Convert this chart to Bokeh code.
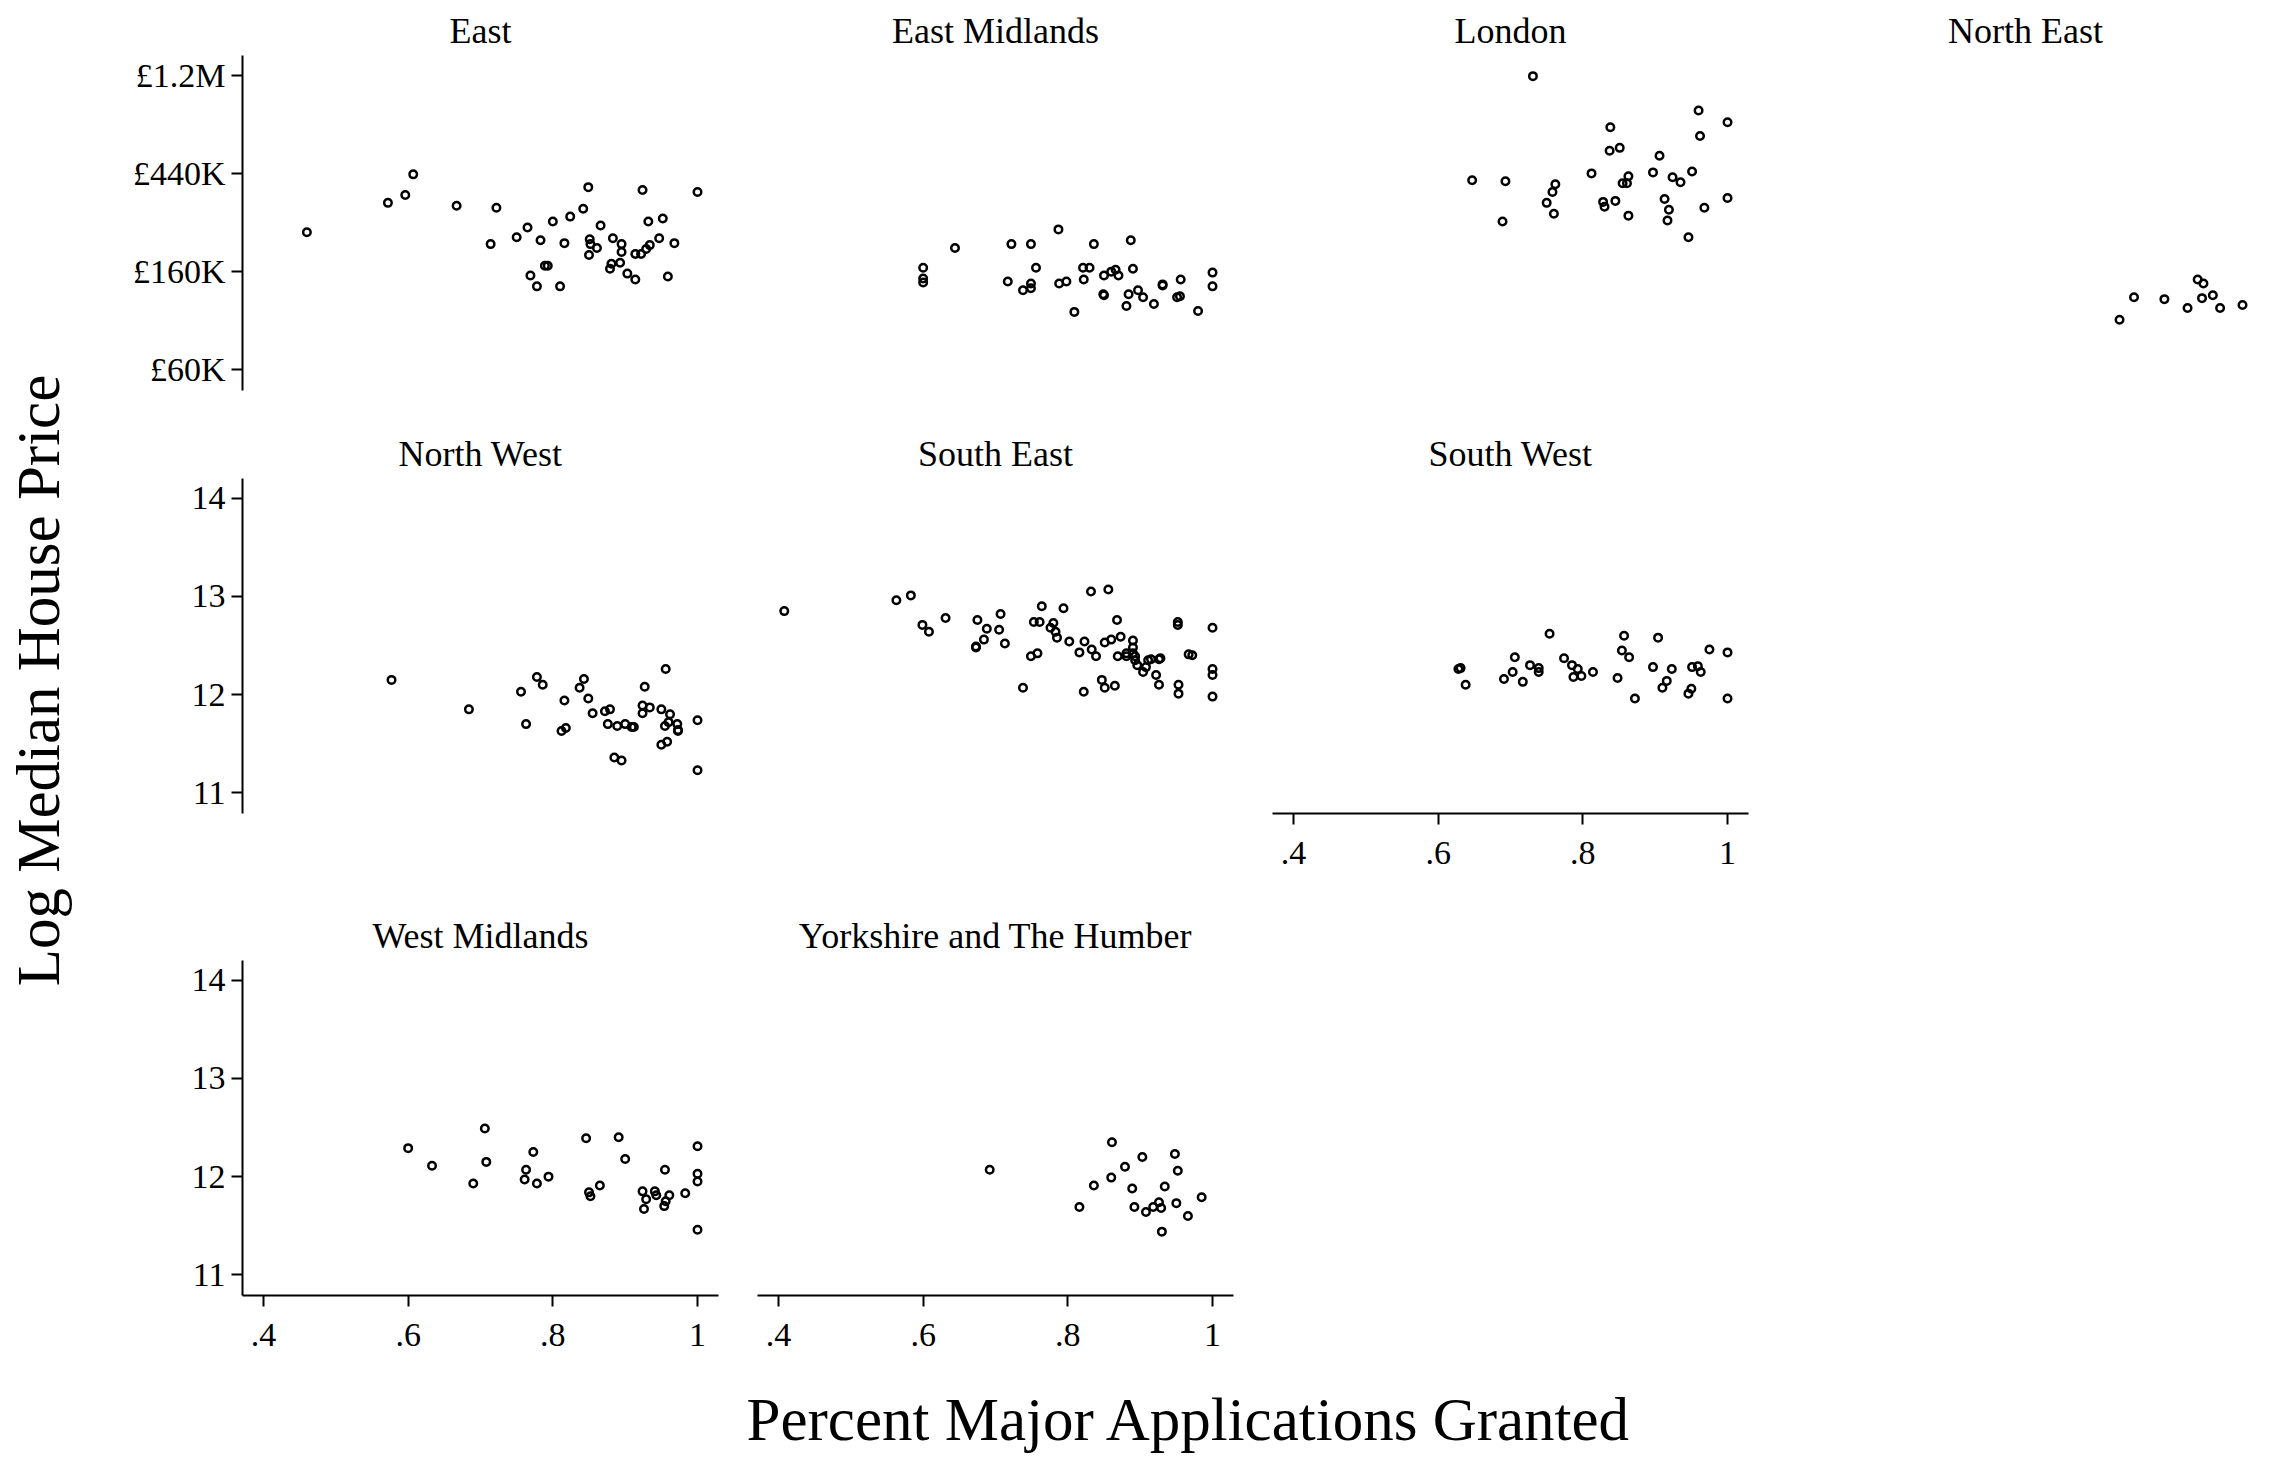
from bokeh.plotting import figure
from bokeh.models import Range1d, LinearAxis, FixedTicker, Label
from bokeh.layouts import row, column
from bokeh.embed import file_html
from bokeh.resources import INLINE

FONT = "Liberation Serif"

# ---------------- data ----------------
x_ticks = [0.4, 0.6, 0.8, 1.0]
x_tick_labels = [".4", ".6", ".8", "1"]
y_ticks = [11, 12, 13, 14]
y_tick_labels = ["11", "12", "13", "14"]
price_tick_labels = ["£60K", "£160K", "£440K", "£1.2M"]

x_title = "Percent Major Applications Granted"
y_title = "Log Median House Price"

east_x = [0.460, 0.572, 0.596, 0.607, 0.667, 0.722, 0.714, 0.750, 0.765, 0.783, 0.800, 0.769, 0.778, 0.789, 0.793,
          0.810, 0.816, 0.824, 0.842, 0.849, 0.851, 0.852, 0.850, 0.861, 0.866, 0.879, 0.881, 0.883, 0.893, 0.895,
          0.895, 0.903, 0.914, 0.914, 0.922, 0.924, 0.929, 0.934, 0.932, 0.947, 0.952, 0.959, 0.968, 1.000]
east_y = [12.40, 12.70, 12.78, 12.99, 12.67, 12.65, 12.28, 12.35, 12.45, 12.32, 12.51, 11.96, 11.85, 12.06, 12.06,
          11.85, 12.29, 12.56, 12.64, 12.86, 12.33, 12.28, 12.17, 12.24, 12.47, 12.03, 12.08, 12.34, 12.09, 12.28,
          12.20, 11.98, 11.92, 12.18, 12.18, 12.83, 12.23, 12.27, 12.51, 12.34, 12.54, 11.95, 12.29, 12.81]

east_mid_x = [0.600, 0.600, 0.600, 0.644, 0.722, 0.749, 0.787, 0.836, 0.887, 0.756, 0.821, 0.830, 0.717, 0.749,
              0.738, 0.749, 0.788, 0.798, 0.822, 0.850, 0.860, 0.866, 0.870, 0.890, 0.809, 0.849, 0.850, 0.881,
              0.884, 0.897, 0.904, 0.919, 0.931, 0.931, 0.951, 0.955, 0.956, 0.980, 1.000, 1.000]
east_mid_y = [12.04, 11.93, 11.89, 12.24, 12.28, 12.28, 12.43, 12.28, 12.32, 12.04, 12.04, 12.04, 11.90, 11.88,
              11.81, 11.83, 11.88, 11.90, 11.92, 11.96, 12.00, 12.02, 11.96, 12.03, 11.59, 11.77, 11.76, 11.65,
              11.77, 11.81, 11.74, 11.67, 11.87, 11.86, 11.74, 11.75, 11.92, 11.60, 11.99, 11.85]

london_x = [0.731, 0.647, 0.693, 0.689, 0.762, 0.758, 0.750, 0.760, 0.812, 0.838, 0.837, 0.851, 0.828, 0.830,
            0.845, 0.863, 0.855, 0.861, 0.863, 0.897, 0.906, 0.913, 0.919, 0.917, 0.924, 0.935, 0.951, 0.946,
            0.960, 0.962, 1.000, 1.000, 0.968]
london_y = [13.99, 12.93, 12.92, 12.51, 12.89, 12.81, 12.70, 12.59, 13.00, 13.47, 13.23, 13.26, 12.71, 12.66,
            12.72, 12.97, 12.90, 12.90, 12.57, 13.01, 13.18, 12.74, 12.63, 12.52, 12.96, 12.91, 13.02, 12.35,
            13.64, 13.38, 13.52, 12.75, 12.65]

north_east_x = [0.830, 0.850, 0.892, 0.924, 0.938, 0.946, 0.944, 0.959, 0.969, 1.000]
north_east_y = [11.51, 11.74, 11.72, 11.63, 11.92, 11.88, 11.73, 11.76, 11.63, 11.66]

north_west_x = [0.577, 0.684, 0.756, 0.763, 0.778, 0.786, 0.816, 0.812, 0.818, 0.837, 0.843, 0.849, 0.855,
                0.872, 0.879, 0.876, 0.889, 0.900, 0.909, 0.912, 0.885, 0.895, 0.924, 0.924, 0.927, 0.934,
                0.950, 0.956, 0.955, 0.960, 0.962, 0.950, 0.958, 0.972, 0.973, 0.973, 1.000, 1.000]
north_west_y = [12.15, 11.85, 12.03, 11.70, 12.18, 12.10, 11.94, 11.63, 11.66, 12.07, 12.16, 11.96, 11.81,
                11.83, 11.85, 11.70, 11.68, 11.70, 11.67, 11.67, 11.36, 11.33, 11.89, 11.81, 12.08, 11.87,
                11.85, 12.26, 11.68, 11.72, 11.80, 11.49, 11.52, 11.70, 11.64, 11.63, 11.74, 11.23]

south_east_x = [0.408, 0.563, 0.583, 0.599, 0.608, 0.631, 0.675, 0.673, 0.673, 0.684, 0.688, 0.705, 0.707,
                0.713, 0.738, 0.749, 0.758, 0.753, 0.761, 0.764, 0.780, 0.776, 0.783, 0.785, 0.794, 0.802,
                0.816, 0.823, 0.822, 0.832, 0.833, 0.839, 0.847, 0.851, 0.851, 0.856, 0.860, 0.865, 0.868,
                0.869, 0.873, 0.881, 0.881, 0.890, 0.890, 0.890, 0.893, 0.893, 0.896, 0.904, 0.908, 0.911,
                0.915, 0.922, 0.926, 0.926, 0.928, 0.952, 0.952, 0.953, 0.953, 0.967, 0.972, 1.000, 1.000,
                1.000, 1.000]
south_east_y = [12.85, 12.96, 13.01, 12.71, 12.64, 12.78, 12.76, 12.48, 12.49, 12.56, 12.67, 12.66, 12.82,
                12.52, 12.07, 12.39, 12.42, 12.74, 12.74, 12.90, 12.73, 12.68, 12.64, 12.58, 12.88, 12.54,
                12.43, 12.54, 12.03, 13.05, 12.46, 12.39, 12.15, 12.07, 12.53, 13.07, 12.56, 12.09, 12.76,
                12.39, 12.59, 12.39, 12.42, 12.55, 12.48, 12.42, 12.39, 12.35, 12.30, 12.23, 12.28, 12.35,
                12.36, 12.20, 12.10, 12.36, 12.37, 12.74, 12.71, 12.10, 12.01, 12.41, 12.40, 12.68, 12.26,
                12.20, 11.98]

south_west_x = [0.628, 0.631, 0.638, 0.691, 0.703, 0.706, 0.717, 0.727, 0.739, 0.739, 0.754, 0.774, 0.785,
                0.793, 0.787, 0.798, 0.814, 0.848, 0.854, 0.857, 0.864, 0.872, 0.897, 0.904, 0.910, 0.916,
                0.923, 0.946, 0.950, 0.951, 0.959, 0.963, 0.975, 1.000, 1.000]
south_west_y = [12.26, 12.27, 12.10, 12.16, 12.23, 12.38, 12.13, 12.30, 12.27, 12.23, 12.62, 12.37, 12.30,
                12.26, 12.18, 12.19, 12.23, 12.17, 12.45, 12.60, 12.38, 11.96, 12.28, 12.58, 12.07, 12.14,
                12.26, 12.01, 12.06, 12.28, 12.29, 12.23, 12.46, 12.43, 11.96]

west_mid_x = [0.600, 0.633, 0.690, 0.706, 0.708, 0.763, 0.761, 0.773, 0.778, 0.794, 0.846, 0.850, 0.852, 0.865,
              0.891, 0.900, 0.924, 0.929, 0.926, 0.941, 0.943, 0.955, 0.954, 0.956, 0.961, 0.983, 1.000, 1.000,
              1.000, 1.000]
west_mid_y = [12.29, 12.11, 11.93, 12.49, 12.15, 12.07, 11.97, 12.25, 11.93, 12.00, 12.39, 11.84, 11.80, 11.91,
              12.40, 12.18, 11.85, 11.77, 11.67, 11.85, 11.81, 12.07, 11.70, 11.75, 11.81, 11.83, 12.31, 12.03,
              11.95, 11.46]

yorks_x = [0.692, 0.861, 0.903, 0.948, 0.879, 0.860, 0.952, 0.836, 0.889, 0.934, 0.816, 0.892, 0.908, 0.918,
           0.926, 0.929, 0.950, 0.985, 0.966, 0.930]
yorks_y = [12.07, 12.35, 12.20, 12.23, 12.10, 11.99, 12.06, 11.91, 11.88, 11.90, 11.69, 11.69, 11.64, 11.69,
           11.74, 11.68, 11.73, 11.79, 11.60, 11.44]

# ---------------- layout constants ----------------
FW, FH = 476, 335
X_RANGE = (0.371, 1.029)
Y_RANGE = (10.79, 14.2)


def style_axis(ax):
    ax.axis_line_width = 2
    ax.axis_line_color = "black"
    ax.major_tick_line_width = 2
    ax.major_tick_line_color = "black"
    ax.major_tick_out = 11
    ax.major_tick_in = 0
    ax.minor_tick_line_color = None
    ax.major_label_text_font = FONT
    ax.major_label_text_font_size = "34px"
    ax.major_label_text_color = "black"


def panel(name, xs, ys, left, right, top, bottom, ylabels=None, xaxis=False):
    p = figure(width=left + FW + right, height=top + FH + bottom,
               x_range=Range1d(*X_RANGE), y_range=Range1d(*Y_RANGE),
               output_backend="svg", toolbar_location=None,
               x_axis_location=None, y_axis_location=None,
               min_border_left=left, min_border_right=right,
               min_border_top=top, min_border_bottom=bottom,
               title=name)
    p.title.align = "center"
    p.title.text_font = FONT
    p.title.text_font_size = "36px"
    p.title.text_font_style = "normal"
    p.title.text_color = "black"
    p.title.standoff = 10
    p.outline_line_color = None
    p.background_fill_color = "white"
    p.border_fill_color = "white"
    for g in p.grid:
        g.visible = False
    if ylabels is not None:
        ax = LinearAxis(ticker=FixedTicker(ticks=y_ticks),
                        major_label_overrides=dict(zip(y_ticks, ylabels)))
        style_axis(ax)
        ax.major_label_standoff = 6
        p.add_layout(ax, "left")
    if xaxis:
        ax = LinearAxis(ticker=FixedTicker(ticks=x_ticks),
                        major_label_overrides=dict(zip(x_ticks, x_tick_labels)))
        style_axis(ax)
        ax.major_label_standoff = 17
        p.add_layout(ax, "below")
    p.scatter(xs, ys, marker="circle", size=7.5, fill_color=None,
              line_color="black", line_width=2.5)
    return p


# row 1
p_e = panel("East", east_x, east_y, 142, 20, 55, 33, ylabels=price_tick_labels)
p_em = panel("East Midlands", east_mid_x, east_mid_y, 19, 20, 55, 33)
p_lo = panel("London", london_x, london_y, 19, 20, 55, 33)
p_ne = panel("North East", north_east_x, north_east_y, 19, 7, 55, 33)
# row 2
p_nw = panel("North West", north_west_x, north_west_y, 142, 20, 55, 92, ylabels=y_tick_labels)
p_se = panel("South East", south_east_x, south_east_y, 19, 20, 55, 92)
p_sw = panel("South West", south_west_x, south_west_y, 19, 20, 55, 92, xaxis=True)
# row 3
p_wm = panel("West Midlands", west_mid_x, west_mid_y, 142, 20, 55, 70, ylabels=y_tick_labels, xaxis=True)
p_yh = panel("Yorkshire and The Humber", yorks_x, yorks_y, 19, 20, 55, 70, xaxis=True)

# big axis titles
left_fig = figure(width=100, height=1459, x_range=Range1d(0, 100), y_range=Range1d(0, 1459),
                  output_backend="svg", toolbar_location=None,
                  x_axis_location=None, y_axis_location=None, min_border=0)
left_fig.outline_line_color = None
for g in left_fig.grid:
    g.visible = False
left_fig.add_layout(Label(x=38, y=1459 - 680, text=y_title, angle=90, angle_units="deg",
                          text_align="center", text_baseline="alphabetic",
                          text_font=FONT, text_font_size="61px", text_color="black"))

bottom_fig = figure(width=2170, height=94, x_range=Range1d(0, 2170), y_range=Range1d(0, 94),
                    output_backend="svg", toolbar_location=None,
                    x_axis_location=None, y_axis_location=None, min_border=0)
bottom_fig.outline_line_color = None
for g in bottom_fig.grid:
    g.visible = False
bottom_fig.add_layout(Label(x=1089, y=40, text=x_title, text_align="center",
                            text_baseline="alphabetic", text_font=FONT,
                            text_font_size="61px", text_color="black"))

grid = column(row(p_e, p_em, p_lo, p_ne),
              row(p_nw, p_se, p_sw),
              row(p_wm, p_yh),
              bottom_fig)
layout = row(left_fig, grid)

open("out.html", "w").write(file_html(layout, INLINE))
